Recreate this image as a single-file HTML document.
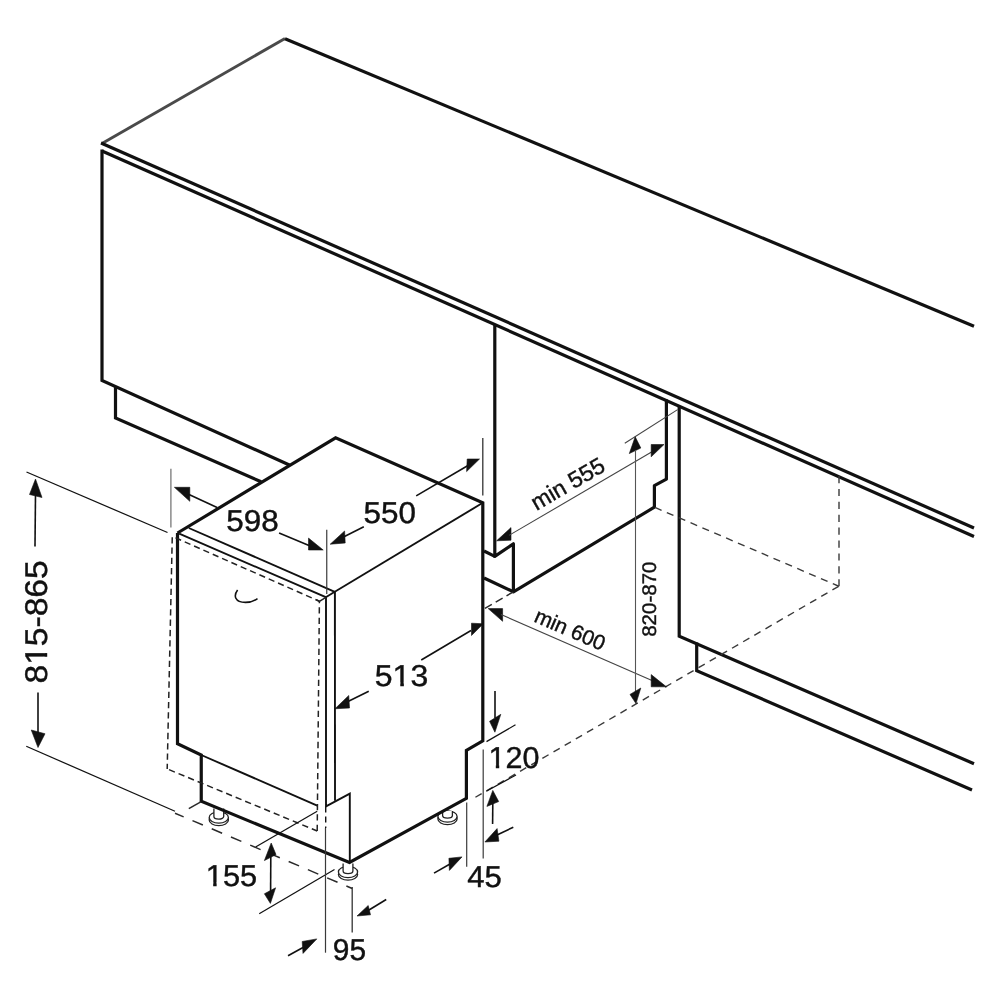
<!DOCTYPE html>
<html><head><meta charset="utf-8"><style>
html,body{margin:0;padding:0;background:#fff;}
svg{display:block;font-family:"Liberation Sans",sans-serif;fill:#111;filter:grayscale(1);text-rendering:geometricPrecision;}
</style></head><body>
<svg width="1000" height="1000" viewBox="0 0 1000 1000">
<rect width="1000" height="1000" fill="#fff"/>
<path d="M102.00 143.50 L285.00 38.50" fill="none" stroke="#4a4a4a" stroke-width="3.0" stroke-linecap="butt" stroke-linejoin="miter" stroke-miterlimit="2.2"/>
<path d="M285.00 38.75 L974.00 326.25" fill="none" stroke="#111" stroke-width="3.2" stroke-linecap="butt" stroke-linejoin="miter" stroke-miterlimit="2.2"/>
<path d="M101.00 143.00 L974.00 528.00" fill="none" stroke="#111" stroke-width="3.2" stroke-linecap="butt" stroke-linejoin="miter" stroke-miterlimit="2.2"/>
<path d="M102.00 151.00 L974.00 536.50" fill="none" stroke="#111" stroke-width="3.2" stroke-linecap="butt" stroke-linejoin="miter" stroke-miterlimit="2.2"/>
<path d="M102.00 149.50 L102.00 380.50 L289.40 465.00" fill="none" stroke="#111" stroke-width="3.2" stroke-linecap="butt" stroke-linejoin="miter" stroke-miterlimit="2.2"/>
<path d="M115.50 386.00 L115.50 418.00 L261.20 481.80" fill="none" stroke="#111" stroke-width="3.2" stroke-linecap="butt" stroke-linejoin="miter" stroke-miterlimit="2.2"/>
<path d="M484.00 551.00 L494.80 556.40" fill="none" stroke="#111" stroke-width="3.2" stroke-linecap="butt" stroke-linejoin="miter" stroke-miterlimit="2.2"/>
<path d="M484.00 578.00 L513.40 591.80" fill="none" stroke="#111" stroke-width="3.2" stroke-linecap="butt" stroke-linejoin="miter" stroke-miterlimit="2.2"/>
<path d="M494.80 324.00 L494.80 556.40 L513.40 543.80 L513.40 591.80 L654.40 507.20 L654.40 485.60 L666.40 479.20 L666.40 399.50" fill="none" stroke="#111" stroke-width="3.2" stroke-linecap="butt" stroke-linejoin="round" stroke-miterlimit="2.2"/>
<path d="M679.20 406.00 L679.20 636.30 L974.00 763.75" fill="none" stroke="#111" stroke-width="3.2" stroke-linecap="butt" stroke-linejoin="miter" stroke-miterlimit="2.2"/>
<path d="M696.70 642.50 L696.70 670.60 L972.00 790.00" fill="none" stroke="#111" stroke-width="3.2" stroke-linecap="butt" stroke-linejoin="miter" stroke-miterlimit="2.2"/>
<path d="M839 476 L839 586.25" fill="none" stroke="#3a3a3a" stroke-width="1.4" stroke-dasharray="7.2 5.7"/>
<path d="M654.4 507.2 L838.75 586.25" fill="none" stroke="#3a3a3a" stroke-width="1.4" stroke-dasharray="7.2 5.7" stroke-dashoffset="-0.6"/>
<path d="M838.75 586.25 L475 797.5" fill="none" stroke="#3a3a3a" stroke-width="1.4" stroke-dasharray="7.2 5.7" stroke-dashoffset="-0.15"/>
<path d="M513.40 591.80 L484.00 609.00" fill="none" stroke="#2a2a2a" stroke-width="1.45" stroke-linecap="butt" stroke-linejoin="miter" stroke-miterlimit="2.2" stroke-dasharray="8 4.5"/>
<ellipse cx="218.80" cy="820.10" rx="9.6" ry="5.6" fill="#fff" stroke="#222" stroke-width="1.3"/>
<ellipse cx="218.80" cy="817.50" rx="9.6" ry="5.6" fill="#fff" stroke="#222" stroke-width="1.3"/>
<path d="M213.90 808.50 L213.90 816.50 A4.9 2.6 0 0 0 223.70 816.50 L223.70 808.50" fill="#fff" stroke="#222" stroke-width="1.3"/>
<ellipse cx="348.00" cy="874.60" rx="9.6" ry="5.6" fill="#fff" stroke="#222" stroke-width="1.3"/>
<ellipse cx="348.00" cy="872.00" rx="9.6" ry="5.6" fill="#fff" stroke="#222" stroke-width="1.3"/>
<path d="M343.10 863.50 L343.10 871.00 A4.9 2.6 0 0 0 352.90 871.00 L352.90 863.50" fill="#fff" stroke="#222" stroke-width="1.3"/>
<ellipse cx="447.50" cy="819.10" rx="9.6" ry="5.6" fill="#fff" stroke="#222" stroke-width="1.3"/>
<ellipse cx="447.50" cy="816.50" rx="9.6" ry="5.6" fill="#fff" stroke="#222" stroke-width="1.3"/>
<path d="M442.60 811.00 L442.60 815.50 A4.9 2.6 0 0 0 452.40 815.50 L452.40 811.00" fill="#fff" stroke="#222" stroke-width="1.3"/>
<path d="M177.50 533.00 L335.60 437.80 L482.80 502.80 L482.80 740.80 L466.40 750.40 L466.40 798.40 L349.50 862.50 L201.25 801.25 L201.25 755.00 L177.50 743.75 L177.50 533.00" fill="none" stroke="#111" stroke-width="3.2" stroke-linecap="butt" stroke-linejoin="miter" stroke-miterlimit="2.2"/>
<path d="M482.80 502.80 L334.80 591.80" fill="none" stroke="#111" stroke-width="1.9" stroke-linecap="butt" stroke-linejoin="miter" stroke-miterlimit="2.2"/>
<path d="M188.80 528.00 L334.80 591.80" fill="none" stroke="#111" stroke-width="1.9" stroke-linecap="butt" stroke-linejoin="miter" stroke-miterlimit="2.2"/>
<path d="M179.20 533.60 L325.80 597.20 L334.80 591.80" fill="none" stroke="#111" stroke-width="1.9" stroke-linecap="butt" stroke-linejoin="miter" stroke-miterlimit="2.2"/>
<path d="M334.90 591.80 L335.00 800.80" fill="none" stroke="#111" stroke-width="1.9" stroke-linecap="butt" stroke-linejoin="miter" stroke-miterlimit="2.2"/>
<path d="M326.00 597.20 L326.00 806.40 L349.80 793.60 L349.80 862.50" fill="none" stroke="#111" stroke-width="1.9" stroke-linecap="butt" stroke-linejoin="miter" stroke-miterlimit="2.2"/>
<path d="M201.25 755.00 L317.20 805.60" fill="none" stroke="#111" stroke-width="1.9" stroke-linecap="butt" stroke-linejoin="miter" stroke-miterlimit="2.2"/>
<path d="M172.3 535 L167.2 768.9" fill="none" stroke="#222" stroke-width="1.5" stroke-dasharray="6.3 4" stroke-dashoffset="-2.2"/>
<path d="M167.2 768.9 L317.2 831" fill="none" stroke="#222" stroke-width="1.5" stroke-dasharray="6.3 4" stroke-dashoffset="-2"/>
<path d="M319.4 601.3 L317.2 831" fill="none" stroke="#222" stroke-width="1.5" stroke-dasharray="6.3 4.05" stroke-dashoffset="-6"/>
<path d="M175.6 537.8 L319.4 601.3" fill="none" stroke="#222" stroke-width="1.5" stroke-dasharray="6.2 4" stroke-dashoffset="0.2"/>
<path d="M316.20 599.60 L319.40 601.30 L325.90 597.30" fill="none" stroke="#222" stroke-width="1.5" stroke-linecap="butt" stroke-linejoin="miter" stroke-miterlimit="2.2"/>
<path d="M188.80 808.60 L200.80 801.90" fill="none" stroke="#2a2a2a" stroke-width="1.6" stroke-linecap="butt" stroke-linejoin="miter" stroke-miterlimit="2.2"/>
<path d="M237.6 590 C233.5 595.5 234.5 602.4 245.5 602.4 C250.5 602.4 254.5 600.8 257.5 598.6" fill="none" stroke="#111" stroke-width="1.6"/>
<path d="M26.50 472.00 L167.50 532.50" fill="none" stroke="#111" stroke-width="1.25" stroke-linecap="butt" stroke-linejoin="miter" stroke-miterlimit="2.2"/>
<path d="M35.50 494.00 L35.00 546.50" fill="none" stroke="#111" stroke-width="1.6" stroke-linecap="butt" stroke-linejoin="miter" stroke-miterlimit="2.2"/>
<path d="M35.50 479.00 L29.50 494.50 L42.00 497.50Z" fill="#111" stroke="#111" stroke-width="0.6" stroke-linejoin="miter"/>
<path d="M38.00 692.50 L38.00 733.00" fill="none" stroke="#111" stroke-width="1.6" stroke-linecap="butt" stroke-linejoin="miter" stroke-miterlimit="2.2"/>
<path d="M38.00 747.50 L31.25 730.00 L45.00 733.75Z" fill="#111" stroke="#111" stroke-width="0.6" stroke-linejoin="miter"/>
<path d="M26.25 746.25 L175.00 811.25" fill="none" stroke="#111" stroke-width="1.25" stroke-linecap="butt" stroke-linejoin="miter" stroke-miterlimit="2.2"/>
<path d="M175 813.2 L352.2 888.5" fill="none" stroke="#2a2a2a" stroke-width="1.5" stroke-dasharray="11.3 9.6" stroke-dashoffset="1.9"/>
<path d="M352.20 887.00 L352.20 932.50" fill="none" stroke="#333" stroke-width="1.3" stroke-linecap="butt" stroke-linejoin="miter" stroke-miterlimit="2.2"/>
<path d="M170.90 468.75 L170.90 527.50" fill="none" stroke="#777" stroke-width="1.3" stroke-linecap="butt" stroke-linejoin="miter" stroke-miterlimit="2.2"/>
<path d="M174.40 487.30 L189.80 487.30 L189.80 501.30Z" fill="#111" stroke="#111" stroke-width="0.6" stroke-linejoin="miter"/>
<path d="M189.00 494.50 L217.10 507.60" fill="none" stroke="#111" stroke-width="1.6" stroke-linecap="butt" stroke-linejoin="miter" stroke-miterlimit="2.2"/>
<path d="M279.10 533.00 L309.00 545.50" fill="none" stroke="#111" stroke-width="1.6" stroke-linecap="butt" stroke-linejoin="miter" stroke-miterlimit="2.2"/>
<path d="M323.20 550.00 L308.50 538.10 L308.50 550.00Z" fill="#111" stroke="#111" stroke-width="0.6" stroke-linejoin="miter"/>
<path d="M326.75 529.70 L326.75 594.10" fill="none" stroke="#3a3a3a" stroke-width="1.2" stroke-linecap="butt" stroke-linejoin="miter" stroke-miterlimit="2.2"/>
<path d="M482.80 438.00 L482.80 495.60" fill="none" stroke="#333" stroke-width="1.3" stroke-linecap="butt" stroke-linejoin="miter" stroke-miterlimit="2.2"/>
<path d="M330.20 544.20 L344.60 531.00 L345.20 543.00Z" fill="#111" stroke="#111" stroke-width="0.6" stroke-linejoin="miter"/>
<path d="M343.00 537.30 L363.80 526.80" fill="none" stroke="#111" stroke-width="1.6" stroke-linecap="butt" stroke-linejoin="miter" stroke-miterlimit="2.2"/>
<path d="M416.20 495.90 L468.00 465.50" fill="none" stroke="#111" stroke-width="1.6" stroke-linecap="butt" stroke-linejoin="miter" stroke-miterlimit="2.2"/>
<path d="M479.50 459.00 L467.20 459.00 L466.60 471.60Z" fill="#111" stroke="#111" stroke-width="0.6" stroke-linejoin="miter"/>
<path d="M335.00 708.75 L348.75 695.50 L349.50 708.00Z" fill="#111" stroke="#111" stroke-width="0.6" stroke-linejoin="miter"/>
<path d="M347.00 702.00 L368.75 691.25" fill="none" stroke="#111" stroke-width="1.6" stroke-linecap="butt" stroke-linejoin="miter" stroke-miterlimit="2.2"/>
<path d="M421.25 660.00 L471.00 630.50" fill="none" stroke="#111" stroke-width="1.6" stroke-linecap="butt" stroke-linejoin="miter" stroke-miterlimit="2.2"/>
<path d="M483.30 623.80 L471.50 623.20 L471.50 635.50Z" fill="#111" stroke="#111" stroke-width="0.6" stroke-linejoin="miter"/>
<path d="M624.80 443.20 L677.60 409.60" fill="none" stroke="#444" stroke-width="1.1" stroke-linecap="butt" stroke-linejoin="miter" stroke-miterlimit="2.2"/>
<path d="M496.60 540.80 L511.00 527.60 L511.00 540.20Z" fill="#111" stroke="#111" stroke-width="0.6" stroke-linejoin="miter"/>
<path d="M509.00 535.40 L652.00 451.80" fill="none" stroke="#444" stroke-width="1.1" stroke-linecap="butt" stroke-linejoin="miter" stroke-miterlimit="2.2"/>
<path d="M664.00 444.50 L651.20 444.50 L651.20 456.80Z" fill="#111" stroke="#111" stroke-width="0.6" stroke-linejoin="miter"/>
<path d="M488.20 608.60 L502.60 608.60 L502.60 621.30Z" fill="#111" stroke="#111" stroke-width="0.6" stroke-linejoin="miter"/>
<path d="M501.00 614.50 L652.00 680.50" fill="none" stroke="#444" stroke-width="1.1" stroke-linecap="butt" stroke-linejoin="miter" stroke-miterlimit="2.2"/>
<path d="M666.40 686.80 L651.20 674.60 L651.20 686.80Z" fill="#111" stroke="#111" stroke-width="0.6" stroke-linejoin="miter"/>
<path d="M635.20 436.80 L629.30 453.60 L640.80 448.00Z" fill="#111" stroke="#111" stroke-width="0.6" stroke-linejoin="miter"/>
<path d="M635.50 450.00 L635.50 692.00" fill="none" stroke="#555" stroke-width="1.1" stroke-linecap="butt" stroke-linejoin="miter" stroke-miterlimit="2.2"/>
<path d="M636.00 703.60 L630.00 694.40 L640.80 688.00Z" fill="#111" stroke="#111" stroke-width="0.6" stroke-linejoin="miter"/>
<path d="M495.00 690.90 L495.00 718.00" fill="none" stroke="#111" stroke-width="1.6" stroke-linecap="butt" stroke-linejoin="miter" stroke-miterlimit="2.2"/>
<path d="M494.90 732.20 L489.60 721.30 L500.80 714.30Z" fill="#111" stroke="#111" stroke-width="0.6" stroke-linejoin="miter"/>
<path d="M486.50 741.60 L515.50 724.80" fill="none" stroke="#111" stroke-width="1.25" stroke-linecap="butt" stroke-linejoin="miter" stroke-miterlimit="2.2"/>
<path d="M483.20 749.60 L483.20 858.40" fill="none" stroke="#3a3a3a" stroke-width="1.2" stroke-linecap="butt" stroke-linejoin="miter" stroke-miterlimit="2.2"/>
<path d="M486.25 791.25 L516.00 775.00" fill="none" stroke="#111" stroke-width="1.25" stroke-linecap="butt" stroke-linejoin="miter" stroke-miterlimit="2.2"/>
<path d="M492.80 790.40 L486.90 806.40 L498.70 801.60Z" fill="#111" stroke="#111" stroke-width="0.6" stroke-linejoin="miter"/>
<path d="M492.80 803.00 L492.60 824.00" fill="none" stroke="#111" stroke-width="1.6" stroke-linecap="butt" stroke-linejoin="miter" stroke-miterlimit="2.2"/>
<path d="M466.70 802.50 L466.70 866.80" fill="none" stroke="#3a3a3a" stroke-width="1.2" stroke-linecap="butt" stroke-linejoin="miter" stroke-miterlimit="2.2"/>
<path d="M484.90 842.00 L497.10 828.60 L498.90 841.20Z" fill="#111" stroke="#111" stroke-width="0.6" stroke-linejoin="miter"/>
<path d="M497.00 835.00 L513.30 827.20" fill="none" stroke="#111" stroke-width="1.6" stroke-linecap="butt" stroke-linejoin="miter" stroke-miterlimit="2.2"/>
<path d="M462.00 856.90 L448.90 858.30 L449.40 870.40Z" fill="#111" stroke="#111" stroke-width="0.6" stroke-linejoin="miter"/>
<path d="M450.00 864.00 L434.00 873.10" fill="none" stroke="#111" stroke-width="1.6" stroke-linecap="butt" stroke-linejoin="miter" stroke-miterlimit="2.2"/>
<path d="M255.60 847.00 L317.20 811.20" fill="none" stroke="#111" stroke-width="1.25" stroke-linecap="butt" stroke-linejoin="miter" stroke-miterlimit="2.2"/>
<path d="M259.20 913.80 L334.50 869.50" fill="none" stroke="#111" stroke-width="1.25" stroke-linecap="butt" stroke-linejoin="miter" stroke-miterlimit="2.2"/>
<path d="M271.20 843.00 L264.40 860.60 L276.00 854.60Z" fill="#111" stroke="#111" stroke-width="0.6" stroke-linejoin="miter"/>
<path d="M270.80 856.00 L270.60 891.00" fill="none" stroke="#111" stroke-width="1.6" stroke-linecap="butt" stroke-linejoin="miter" stroke-miterlimit="2.2"/>
<path d="M270.40 903.40 L264.40 893.80 L275.60 887.80Z" fill="#111" stroke="#111" stroke-width="0.6" stroke-linejoin="miter"/>
<path d="M325.70 806.40 L325.70 828.00" fill="none" stroke="#111" stroke-width="1.4" stroke-linecap="butt" stroke-linejoin="miter" stroke-miterlimit="2.2" stroke-dasharray="6 4"/>
<path d="M325.50 828.00 L325.50 952.70" fill="none" stroke="#3a3a3a" stroke-width="1.2" stroke-linecap="butt" stroke-linejoin="miter" stroke-miterlimit="2.2"/>
<path d="M357.00 916.00 L368.20 905.50 L370.50 914.80Z" fill="#111" stroke="#111" stroke-width="0.6" stroke-linejoin="miter"/>
<path d="M369.00 910.00 L386.20 899.50" fill="none" stroke="#111" stroke-width="1.6" stroke-linecap="butt" stroke-linejoin="miter" stroke-miterlimit="2.2"/>
<path d="M316.80 938.90 L302.20 941.50 L303.00 953.40Z" fill="#111" stroke="#111" stroke-width="0.6" stroke-linejoin="miter"/>
<path d="M303.00 947.50 L288.00 955.70" fill="none" stroke="#111" stroke-width="1.6" stroke-linecap="butt" stroke-linejoin="miter" stroke-miterlimit="2.2"/>
<g transform="translate(226.30 531.00) scale(1.040 1)"><text font-size="30.2" stroke="#111" stroke-width="0.42" >598</text></g>
<g transform="translate(363.50 523.40) scale(1.040 1)"><text font-size="30.2" stroke="#111" stroke-width="0.42" >550</text></g>
<g transform="translate(374.80 685.80) scale(1.060 1)"><text font-size="30.2" stroke="#111" stroke-width="0.42" >513</text><rect x="17.39" y="-3.44" width="6.64" height="5.44" fill="#fff"/><rect x="27.42" y="-3.44" width="5.74" height="5.44" fill="#fff"/></g>
<g transform="translate(488.50 768.00) scale(1.010 1)"><text font-size="30.2" stroke="#111" stroke-width="0.42" >120</text><rect x="0.59" y="-3.44" width="6.64" height="5.44" fill="#fff"/><rect x="10.62" y="-3.44" width="5.74" height="5.44" fill="#fff"/></g>
<g transform="translate(467.30 887.00) scale(1.030 1)"><text font-size="30.2" stroke="#111" stroke-width="0.42" >45</text></g>
<g transform="translate(205.80 885.80) scale(1.020 1)"><text font-size="30.2" stroke="#111" stroke-width="0.42" >155</text><rect x="0.59" y="-3.44" width="6.64" height="5.44" fill="#fff"/><rect x="10.62" y="-3.44" width="5.74" height="5.44" fill="#fff"/></g>
<g transform="translate(332.80 960.30) scale(0.990 1)"><text font-size="30.2" stroke="#111" stroke-width="0.42" >95</text></g>
<g transform="translate(47.20 683.50) rotate(-90.00) scale(1.068 1)"><text font-size="31.41" stroke="#111" stroke-width="0.42" >815-865</text><rect x="18.08" y="-3.57" width="6.93" height="5.57" fill="#fff"/><rect x="28.50" y="-3.57" width="5.99" height="5.57" fill="#fff"/></g>
<g transform="translate(656.30 636.80) rotate(-90.00) scale(1.042 1)"><text font-size="19.68" stroke="#111" stroke-width="0.42" >820-870</text></g>
<g transform="translate(536.40 510.90) rotate(-30.00)"><text font-size="22.88" stroke="#111" stroke-width="0.42" >min 555</text></g>
<g transform="translate(532.90 621.30) rotate(23.40)"><text font-size="21.03" stroke="#111" stroke-width="0.42" >min 600</text></g>
</svg></body></html>
